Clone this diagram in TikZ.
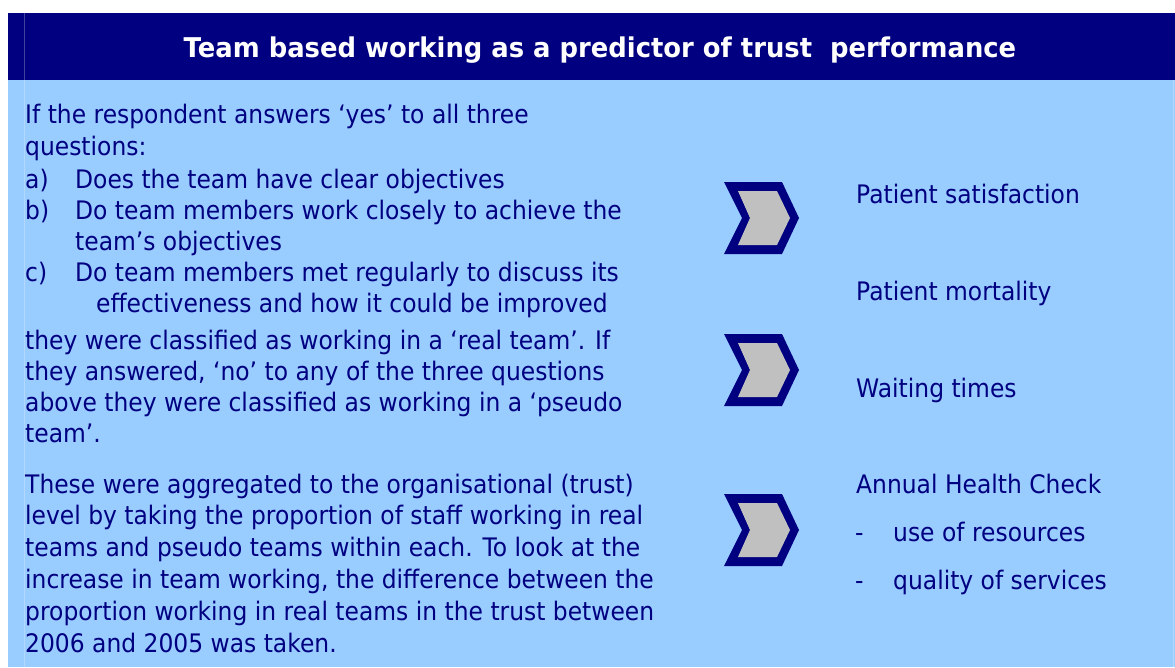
\documentclass[tikz,border=0pt]{standalone}
\usepackage{fontspec}
\setmainfont{DejaVu Sans}[FakeStretch=0.918]
\newfontfamily\ttlfont{DejaVu Sans}[FakeStretch=0.95]
\definecolor{navy}{HTML}{000080}
\definecolor{skyb}{HTML}{99CCFF}
\definecolor{chevgray}{HTML}{C0C0C0}
\begin{document}
\begin{tikzpicture}[x=1pt,y=-1pt,
  txt/.style={anchor=base west,inner sep=0pt,text=navy,font=\fontsize{25.5}{30}\selectfont},
  ttl/.style={anchor=base,inner sep=0pt,text=white,font=\ttlfont\fontsize{27.2}{32}\selectfont\bfseries},
  chev/.pic={
    \fill[navy] (-37,-36) -- (21,-36) -- (38,0) -- (21,36) -- (-37,36) -- (-19,0) -- cycle;
    \fill[chevgray] (-23,-27) -- (16,-27) -- (29,0) -- (16,27) -- (-23,27) -- (-11,0) -- cycle;
  }]
\useasboundingbox (0,0) rectangle (1175,667);
\fill[white] (0,0) rectangle (1175,667);
\fill[skyb] (8,80) rectangle (1175,667);
\fill[navy] (8,13) rectangle (1175,80);
\draw[white,opacity=0.25,line width=1pt] (24.5,13) -- (24.5,667);
\draw[white,opacity=0.25,line width=1pt] (1173.5,80) -- (1173.5,667);
\node[ttl] (title) at (600,57) {Team based working as a predictor of trust\ \ performance};
% left text
\node[txt] (l1) at (25,123) {If the respondent answers ‘yes’ to all three};
\node[txt] (l2) at (25,155) {questions:};
\node[txt] (l3a) at (25,188) {a)};
\node[txt] (l3) at (75,188) {Does the team have clear objectives};
\node[txt] (l4a) at (25,219) {b)};
\node[txt] (l4) at (75,219) {Do team members work closely to achieve the};
\node[txt] (l5) at (75,250) {team’s objectives};
\node[txt] (l6a) at (25,281) {c)};
\node[txt] (l6) at (75,281) {Do team members met regularly to discuss its};
\node[txt] (l7) at (96,312) {effectiveness and how it could be improved};
\node[txt] (l8) at (25,349) {they were classified as working in a ‘real team’. If};
\node[txt] (l9) at (25,380) {they answered, ‘no’ to any of the three questions};
\node[txt] (l10) at (25,411) {above they were classified as working in a ‘pseudo};
\node[txt] (l11) at (25,442) {team’.};
\node[txt] (p1) at (25,493) {These were aggregated to the organisational (trust)};
\node[txt] (p2) at (25,524) {level by taking the proportion of staff working in real};
\node[txt] (p3) at (25,556) {teams and pseudo teams within each. To look at the};
\node[txt] (p4) at (25,588) {increase in team working, the difference between the};
\node[txt] (p5) at (25,620) {proportion working in real teams in the trust between};
\node[txt] (p6) at (25,652) {2006 and 2005 was taken.};
% chevrons
\pic at (761,218) {chev};
\pic at (761,370) {chev};
\pic at (761,530) {chev};
% right text
\node[txt] (r1) at (856,203) {Patient satisfaction};
\node[txt] (r2) at (856,300) {Patient mortality};
\node[txt] (r3) at (856,397) {Waiting times};
\node[txt] (r4) at (856,493) {Annual Health Check};
\node[txt] (r5a) at (855,541) {-};
\node[txt] (r5) at (893,541) {use of resources};
\node[txt] (r6a) at (855,589) {-};
\node[txt] (r6) at (893,589) {quality of services};
\end{tikzpicture}
\end{document}
